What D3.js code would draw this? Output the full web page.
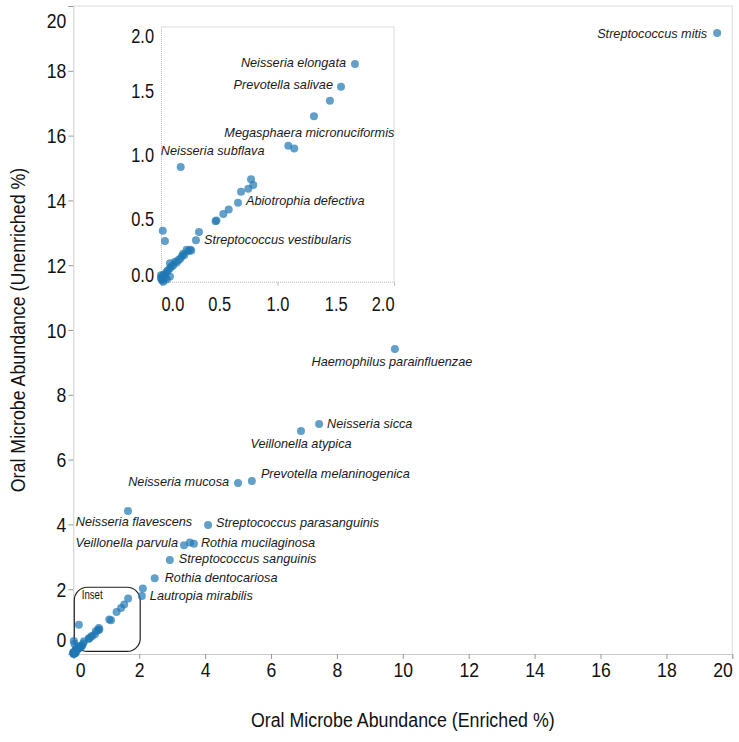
<!DOCTYPE html>
<html>
<head>
<meta charset="utf-8">
<script src="https://cdn.jsdelivr.net/npm/d3@7"></script>
<style>
  html, body { margin: 0; padding: 0; background: #fff; }
  svg { display: block; }
  .tick-label { font-family: "Liberation Sans", Arial, Helvetica, sans-serif; fill: #111; }
  .ann { font-family: "Liberation Sans", Arial, Helvetica, sans-serif; font-style: italic; font-size: 12.7px; fill: #1a1a1a; }
</style>
</head>
<body>
<div id="chart"></div>
<script>
// ---------------- DATA ----------------
const names = [
  "Streptococcus mitis", "Haemophilus parainfluenzae", "Neisseria sicca", "Veillonella atypica",
  "Prevotella melaninogenica", "Neisseria mucosa", "Neisseria flavescens", "Streptococcus parasanguinis",
  "Veillonella parvula", "", "Rothia mucilaginosa", "Streptococcus sanguinis", "Rothia dentocariosa",
  "", "Lautropia mirabilis",
  "Neisseria elongata", "Prevotella salivae", "", "", "Megasphaera micronuciformis", "",
  "Neisseria subflava", "", "", "", "", "Abiotrophia defectiva", "", "", "", "", "",
  "Streptococcus vestibularis", "", "",
  "", "", "", "", "", "", "", "", "", "", "", "", "", "", "", "", "", "", "", "", "", "", "", "", "", "", "", ""
];
const enriched = [
  19.54, 9.76, 7.46, 6.91, 5.42, 5.00, 1.66, 4.09, 3.36, 3.54, 3.66, 2.93, 2.47, 2.11, 2.08,
  1.665, 1.545, 1.45, 1.313, 1.093, 1.144, 0.169, 0.773, 0.792, 0.749, 0.687, 0.661, 0.581, 0.535,
  0.468, 0.476, 0.326, 0.30, 0.015, 0.034,
  0.25, 0.22, 0.26, 0.235, 0.19, 0.18, 0.20, 0.15, 0.165, 0.12, 0.135, 0.106, 0.077, 0.09, 0.077,
  0.06, 0.049, 0.035, 0.02, 0.01, 0.0, 0.034, 0.0, 0.077, 0.01, 0.02, 0.005, 0.05
];
const unenriched = [
  19.17, 9.41, 7.10, 6.88, 5.34, 5.28, 4.41, 3.98, 3.36, 3.44, 3.40, 2.90, 2.34, 2.02, 1.79,
  1.71, 1.53, 1.42, 1.30, 1.068, 1.045, 0.90, 0.804, 0.76, 0.73, 0.707, 0.62, 0.566, 0.532,
  0.474, 0.48, 0.39, 0.325, 0.40, 0.32,
  0.25, 0.25, 0.245, 0.24, 0.22, 0.20, 0.21, 0.17, 0.18, 0.157, 0.15, 0.13, 0.145, 0.12, 0.105,
  0.09, 0.079, 0.06, 0.053, 0.04, 0.03, 0.03, 0.05, 0.04, 0.01, 0.0, 0.02, 0.02
];
const mainTicks = [0, 2, 4, 6, 8, 10, 12, 14, 16, 18, 20];
const insetTicks = [0, 0.5, 1.0, 1.5, 2.0];
const xTitle = "Oral Microbe Abundance (Enriched %)";
const yTitle = "Oral Microbe Abundance (Unenriched %)";
const insetLabel = "Inset";

// ---------------- LABEL LAYOUT (pixel offsets) ----------------
const labelLayout = {
  "Streptococcus mitis": {a: "end", dx: -10, dy: 5},
  "Haemophilus parainfluenzae": {a: "middle", dx: -3, dy: 17},
  "Neisseria sicca": {a: "start", dx: 8, dy: 4},
  "Veillonella atypica": {a: "middle", dx: 0, dy: 17},
  "Prevotella melaninogenica": {a: "start", dx: 9, dy: -3},
  "Neisseria mucosa": {a: "end", dx: -9, dy: 3},
  "Neisseria flavescens": {a: "middle", dx: 6, dy: 15},
  "Streptococcus parasanguinis": {a: "start", dx: 8, dy: 2},
  "Veillonella parvula": {a: "end", dx: -6, dy: 2},
  "Rothia mucilaginosa": {a: "start", dx: 7, dy: 3},
  "Streptococcus sanguinis": {a: "start", dx: 9, dy: 3},
  "Rothia dentocariosa": {a: "start", dx: 10, dy: 4},
  "Lautropia mirabilis": {a: "start", dx: 8, dy: 4},
  "Neisseria elongata": {a: "end", dx: -9, dy: 3},
  "Prevotella salivae": {a: "end", dx: -8, dy: 2},
  "Megasphaera micronuciformis": {a: "middle", dx: 21, dy: -9},
  "Neisseria subflava": {a: "middle", dx: 32, dy: -12},
  "Abiotrophia defectiva": {a: "start", dx: 8, dy: 2},
  "Streptococcus vestibularis": {a: "start", dx: 8, dy: 4}
};

const points = names.map((n, i) => ({name: n, x: enriched[i], y: unenriched[i]}));
const inInset = d => d.x <= 2 && d.y <= 2;

// condense text horizontally (narrow font look)
function condense(factor) {
  return sel => sel.each(function () {
    const len = this.getComputedTextLength();
    if (len > 0) d3.select(this).attr("textLength", len * factor).attr("lengthAdjust", "spacingAndGlyphs");
  });
}

// ---------------- CHART ----------------
const W = 739, H = 742;
const svg = d3.select("#chart").append("svg").attr("width", W).attr("height", H);
svg.append("rect").attr("width", W).attr("height", H).attr("fill", "#fff");

const FILL = "#1f77b4", OP = 0.7, R = 4;

const x = d3.scaleLinear().domain([0, 20]).range([73.3, 732.3]);
const y = d3.scaleLinear().domain([0, 20]).range([654, 6]);

const g = svg.append("g");
g.append("line").attr("x1", x(0)).attr("x2", x(20)).attr("y1", y(20)).attr("y2", y(20)).attr("stroke", "#ddd");
g.append("line").attr("x1", x(20)).attr("x2", x(20)).attr("y1", y(20)).attr("y2", y(0)).attr("stroke", "#ddd");

const xAxis = g.append("g").attr("transform", `translate(0,${y(0)})`)
  .call(d3.axisBottom(x).tickValues(mainTicks).tickSize(5).tickFormat(d3.format("d")));
xAxis.select(".domain").attr("stroke", "#ccc");
xAxis.selectAll(".tick line").attr("stroke", "#999");
xAxis.selectAll(".tick text").attr("class", "tick-label").attr("font-size", 20).attr("y", 9).attr("dy", "0.71em")
  .attr("text-anchor", (d, i, a) => i === 0 ? "start" : (i === a.length - 1 ? "end" : "middle"))
  .attr("dx", (d, i, a) => i === 0 ? 2 : 0)
  .call(condense(0.88));

const yAxis = g.append("g").attr("transform", `translate(${x(0)},0)`)
  .call(d3.axisLeft(y).tickValues(mainTicks).tickSize(5).tickFormat(d3.format("d")));
yAxis.select(".domain").attr("stroke", "#ccc");
yAxis.selectAll(".tick line").attr("stroke", "#999");
yAxis.selectAll(".tick text").attr("class", "tick-label").attr("font-size", 20).attr("x", -7)
  .attr("dy", (d, i, a) => i === 0 ? "-0.36em" : (i === a.length - 1 ? "1.06em" : "0.35em"))
  .call(condense(0.88));

g.append("text").attr("class", "tick-label").attr("font-size", 20)
  .attr("x", (x(0) + x(20)) / 2).attr("y", 727).attr("text-anchor", "middle").text(xTitle).call(condense(0.89));
g.append("text").attr("class", "tick-label").attr("font-size", 20)
  .attr("transform", `translate(25,${(y(0) + y(20)) / 2}) rotate(-90)`).attr("text-anchor", "middle").text(yTitle)
  .call(condense(0.89));

g.append("rect").attr("x", x(0) + 1).attr("y", y(2.06)).attr("width", x(2) - x(0)).attr("height", y(0.08) - y(2.06))
  .attr("rx", 13).attr("ry", 13).attr("fill", "none").attr("stroke", "#222").attr("stroke-width", 1.2);
g.append("text").attr("class", "tick-label").attr("font-size", 12)
  .attr("x", x(0) + 8.5).attr("y", y(2.06) + 12).text(insetLabel).call(condense(0.8));

g.append("g").selectAll("circle").data(points).join("circle")
  .attr("cx", d => x(d.x)).attr("cy", d => y(d.y)).attr("r", R)
  .attr("fill", FILL).attr("fill-opacity", OP);

g.append("g").selectAll("text").data(points.filter(d => d.name && !inInset(d))).join("text")
  .attr("class", "ann")
  .attr("x", d => x(d.x) + labelLayout[d.name].dx)
  .attr("y", d => y(d.y) + labelLayout[d.name].dy)
  .attr("text-anchor", d => labelLayout[d.name].a)
  .text(d => d.name);

// ---------------- INSET ----------------
const xi = d3.scaleLinear().domain([0, 2]).range([161, 394]);
const yi = d3.scaleLinear().domain([0, 2]).range([281.7, 27]);
const gi = svg.append("g");
gi.append("rect").attr("x", xi(0)).attr("y", yi(2)).attr("width", xi(2) - xi(0)).attr("height", yi(0) - yi(2))
  .attr("fill", "#fff");
gi.append("line").attr("x1", xi(0)).attr("x2", xi(2)).attr("y1", yi(2)).attr("y2", yi(2)).attr("stroke", "#ddd");
gi.append("line").attr("x1", xi(2)).attr("x2", xi(2)).attr("y1", yi(2)).attr("y2", yi(0)).attr("stroke", "#ddd");

const xiAxis = gi.append("g").attr("transform", `translate(0,${yi(0)})`)
  .call(d3.axisBottom(xi).tickValues(insetTicks).tickSize(4).tickFormat(d3.format(".1f")));
xiAxis.select(".domain").attr("stroke", "#bbb").attr("stroke-dasharray", "1,1");
xiAxis.selectAll(".tick line").attr("stroke", (d) => Number.isInteger(d) ? "#bbb" : "none");
xiAxis.selectAll(".tick text").attr("class", "tick-label").attr("font-size", 20).attr("y", 15).attr("dy", "0.71em")
  .attr("text-anchor", (d, i, a) => i === 0 ? "start" : (i === a.length - 1 ? "end" : "middle"))
  .call(condense(0.82));

const yiAxis = gi.append("g").attr("transform", `translate(${xi(0)},0)`)
  .call(d3.axisLeft(yi).tickValues(insetTicks).tickSize(0).tickFormat(d3.format(".1f")));
yiAxis.select(".domain").attr("stroke", "#bbb").attr("stroke-dasharray", "1,1");
yiAxis.selectAll(".tick text").attr("class", "tick-label").attr("font-size", 20).attr("x", -7)
  .attr("dy", (d, i, a) => i === 0 ? "-0.02em" : (i === a.length - 1 ? "0.76em" : "0.35em"))
  .call(condense(0.82));

const insetPts = points.filter(inInset);
gi.append("g").selectAll("circle").data(insetPts).join("circle")
  .attr("cx", d => xi(d.x)).attr("cy", d => yi(d.y)).attr("r", R)
  .attr("fill", FILL).attr("fill-opacity", OP);

gi.append("g").selectAll("text").data(insetPts.filter(d => d.name)).join("text")
  .attr("class", "ann")
  .attr("x", d => xi(d.x) + labelLayout[d.name].dx)
  .attr("y", d => yi(d.y) + labelLayout[d.name].dy)
  .attr("text-anchor", d => labelLayout[d.name].a)
  .text(d => d.name);
</script>
</body>
</html>
